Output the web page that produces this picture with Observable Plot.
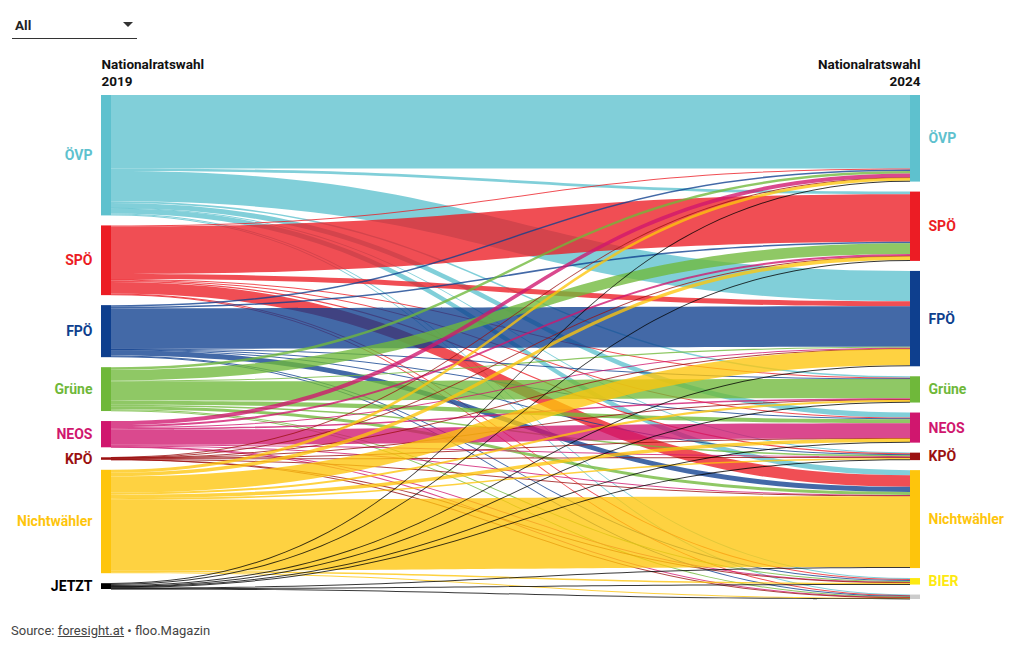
<!DOCTYPE html>
<html>
<head>
<meta charset="utf-8">
<script src="https://cdn.jsdelivr.net/npm/d3@7"></script>
<script src="https://cdn.jsdelivr.net/npm/@observablehq/plot@0.6"></script>
<style>
  html, body { margin: 0; padding: 0; background: #fff; }
  body { font-family: Roboto, "Noto Sans", sans-serif; width: 1020px; height: 650px; position: relative; overflow: hidden; }
  #dd { position: absolute; left: 12px; top: 14px; width: 125px; height: 24px; border-bottom: 1px solid #333; }
  #dd .lbl { position: absolute; left: 3px; top: 3px; font-weight: 700; font-size: 13.5px; color: #222; }
  #dd .tri { position: absolute; left: 111px; top: 8px; width: 0; height: 0; border-left: 5px solid transparent; border-right: 5px solid transparent; border-top: 5px solid #333; }
  #chart { position: absolute; left: 0; top: 50px; }
  #src { position: absolute; left: 11px; top: 623px; font-size: 13px; color: #444; }
  #src u { text-decoration: underline; }
</style>
</head>
<body>
<div id="dd"><span class="lbl">All</span><span class="tri"></span></div>
<div id="chart"></div>
<div id="src">Source: <u>foresight.at</u> • floo.Magazin</div>
<script>
// 2019 parties (sources) and 2024 parties (targets)
const sources = ["ÖVP", "SPÖ", "FPÖ", "Grüne", "NEOS", "KPÖ", "Nichtwähler", "JETZT"];
const targets = ["ÖVP", "SPÖ", "FPÖ", "Grüne", "NEOS", "KPÖ", "Nichtwähler", "BIER", "Andere"];
const targetLabels = ["ÖVP", "SPÖ", "FPÖ", "Grüne", "NEOS", "KPÖ", "Nichtwähler", "BIER", ""];
const sourceColors = ["#5ec1ce", "#ec1c24", "#0e3f8e", "#6fb83a", "#d0166e", "#9b1010", "#fec50c", "#000000"];
const targetColors = ["#5ec1ce", "#ec1c24", "#0e3f8e", "#6fb83a", "#d0166e", "#9b1010", "#fec50c", "#fde910", "#cccccc"];

// voter flows in thousands, one array per 2019 source, ordered like `targets`
const fromOVP   = [1088,  38, 450,  23,  75,   8,   75, 15, 12];
const fromSPO   = [  15, 705,  75,  12,  12,  18,  173, 15,  8];
const fromFPO   = [  23,  23, 600,   5,  11,   8,   75, 15, 11];
const fromGRUENE= [  38, 158,  15, 285,  60,  23,   45, 15, 11];
const fromNEOS  = [  60,  30,  15,  23, 225,   8,   15,  8,  5];
const fromKPO   = [   3,   5,   3,   3,   2,  15,    3,  2,  1];
const fromNW    = [  45,  53, 240,  30,  53,  23, 1050, 23, 15];
const fromJETZT = [  11,  15,  15,   8,   8,   8,   15,  3,  3];

const matrix = [fromOVP, fromSPO, fromFPO, fromGRUENE, fromNEOS, fromKPO, fromNW, fromJETZT];

// --- sankey layout in value units ---
const H = 504, pad = 10, innerW = 819, nodeW = 10;
const sumS = matrix.map(r => d3.sum(r));
const sumT = targets.map((_, j) => d3.sum(matrix, r => r[j]));
const total = d3.sum(sumS);
const maxN = Math.max(sources.length, targets.length);
const D = total * H / (H - (maxN - 1) * pad);
const g = pad * D / H;
const w = nodeW / innerW;
const minT = 1 * D / H;

function stack(sums, names, colors, labels, x1, x2) {
  let y = 0;
  return sums.map((s, i) => {
    const n = {name: names[i], label: labels[i], color: colors[i], y0: y, y1: y + s, x1, x2};
    n.ymid = (n.y0 + n.y1) / 2;
    y += s + g;
    return n;
  });
}
const leftNodes = stack(sumS, sources, sourceColors, sources, 0, w);
const rightNodes = stack(sumT, targets, targetColors, targetLabels, 1 - w, 1);

const sOff = leftNodes.map(n => n.y0);
const tOff = rightNodes.map(n => n.y0);
const links = [];
matrix.forEach((row, i) => row.forEach((v, j) => {
  links.push({i, j, v, sy0: sOff[i], sy1: sOff[i] + v});
  sOff[i] += v;
}));
for (let j = 0; j < targets.length; j++) {
  for (let i = 0; i < sources.length; i++) {
    const l = links.find(d => d.i === i && d.j === j);
    l.ty0 = tOff[j]; l.ty1 = tOff[j] + l.v; tOff[j] += l.v;
  }
}
function widen(a, b) {
  if (b - a >= minT) return [a, b];
  const c = (a + b) / 2; return [c - minT / 2, c + minT / 2];
}
const areaRows = [];
links.forEach((l, k) => {
  const [a0, a1] = widen(l.sy0, l.sy1);
  const [b0, b1] = widen(l.ty0, l.ty1);
  const color = sourceColors[l.i];
  areaRows.push({id: k, x: w, y1: a0, y2: a1, color});
  areaRows.push({id: k, x: 1 - w, y1: b0, y2: b1, color});
});

const chart = Plot.plot({
  width: 1020,
  height: 560,
  marginTop: 45,
  marginBottom: 11,
  marginLeft: 101,
  marginRight: 100,
  x: {domain: [0, 1], axis: null},
  y: {domain: [0, D], reverse: true, axis: null},
  style: {fontFamily: "Roboto, 'Noto Sans', sans-serif", background: "#fff", overflow: "visible"},
  marks: [
    Plot.area(areaRows, {x1: "x", y1: "y1", y2: "y2", z: "id", fill: "color", fillOpacity: 0.78, curve: "bump-x"}),
    Plot.rect(leftNodes, {x1: "x1", x2: "x2", y1: "y0", y2: "y1", fill: "color"}),
    Plot.rect(rightNodes, {x1: "x1", x2: "x2", y1: "y0", y2: "y1", fill: "color"}),
    Plot.text(leftNodes, {x: 0, y: "ymid", text: "label", fill: "color", textAnchor: "end", dx: -9, fontWeight: 700, fontSize: 14}),
    Plot.text(rightNodes, {x: 1, y: "ymid", text: "label", fill: "color", textAnchor: "start", dx: 8, fontWeight: 700, fontSize: 14}),
    Plot.text(["Nationalratswahl\n2019"], {frameAnchor: "top-left", dy: -38, lineHeight: 1.25, fontWeight: 700, fontSize: 13.5, fill: "#111"}),
    Plot.text(["Nationalratswahl\n2024"], {frameAnchor: "top-right", dy: -38, lineHeight: 1.25, fontWeight: 700, fontSize: 13.5, fill: "#111", textAnchor: "end"})
  ]
});
document.getElementById("chart").appendChild(chart);
</script>
</body>
</html>
